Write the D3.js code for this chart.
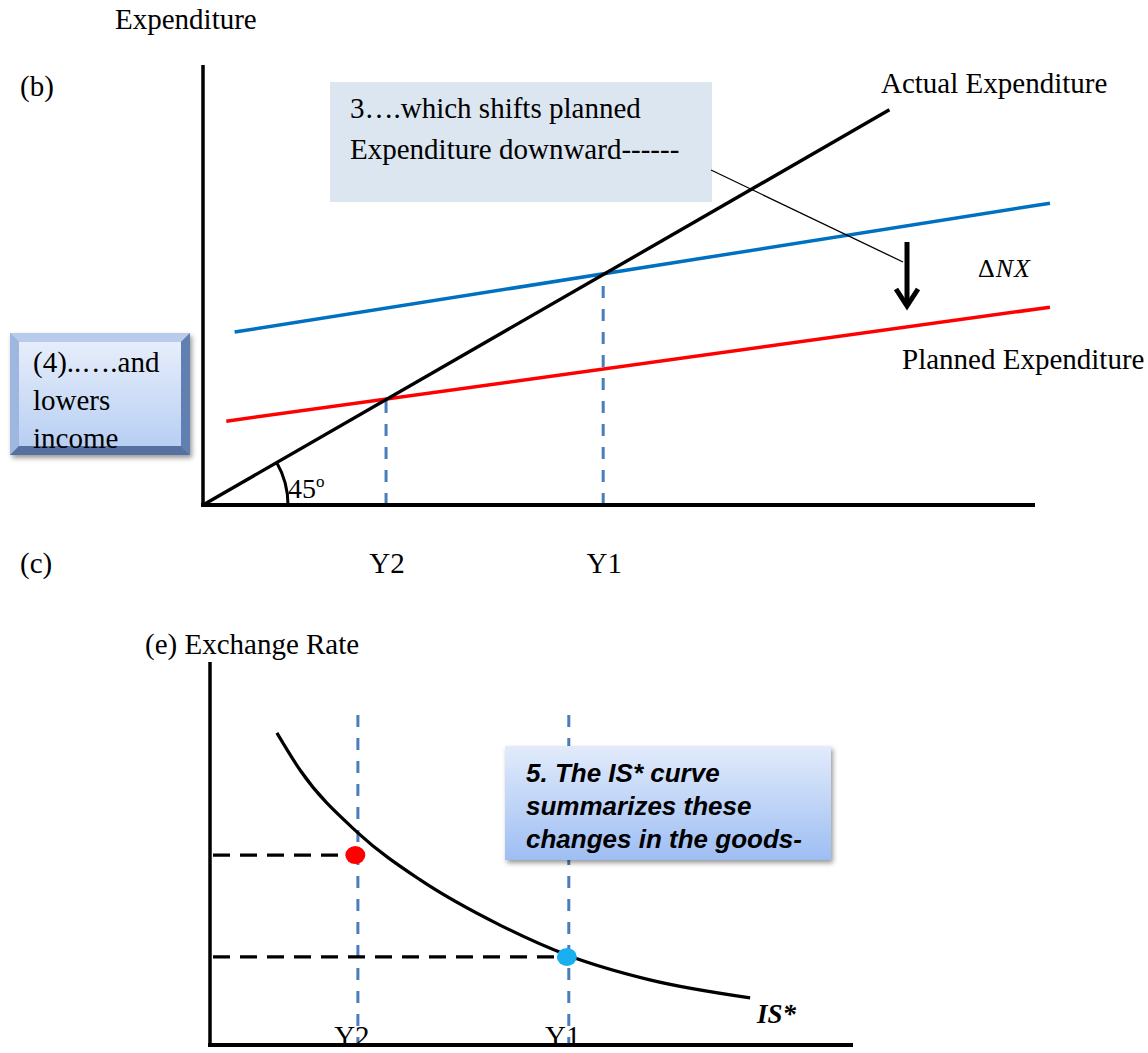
<!DOCTYPE html>
<html><head><meta charset="utf-8">
<script src="https://cdn.jsdelivr.net/npm/d3@7"></script>
<style>body{margin:0;background:#fff}svg{display:block}</style>
</head><body>
<script>
// ---- data (top panel: Keynesian cross) ----
const actualLine = [[0,0],[82.5,82.5]];
const plannedBefore = [[3.8,36.1],[101.8,63.0]];
const plannedAfter = [[2.8,17.5],[101.8,41.3]];
const incomeLabels = ["Y2","Y1"];
const incomeTop = [22.0, 48.1];
// ---- data (bottom panel: IS* curve) ----
const isCurve = [[10.4,81.5],[14.0,71.8],[23.0,55.4],[32.7,43.1],[45.1,31.3],[55.5,23.5],[68.4,17.0],[84.0,12.3]];
const incomeBottom = [23.0, 55.8];
const ratePoints = [[22.6,49.6],[55.5,23.0]];
const dotColors = ["#ff0000","#1ab0ef"];

const W=1148,H=1053;
const svg=d3.select("body").append("svg").attr("width",W).attr("height",H);
const serif="'Liberation Serif','Times New Roman',serif";
const defs=svg.append("defs");

// scales
const xs=d3.scaleLinear().domain([0,100]).range([203,1035]);
const ys=d3.scaleLinear().domain([0,100]).range([505,26]);
const xb=d3.scaleLinear().domain([0,100]).range([210,853]);
const yb=d3.scaleLinear().domain([0,100]).range([1045,662]);
const line=(sx,sy)=>d3.line().x(d=>sx(d[0])).y(d=>sy(d[1]));

// gradients / filters
const g1=defs.append("linearGradient").attr("id","face4").attr("x1",0).attr("y1",0).attr("x2",0).attr("y2",1);
g1.append("stop").attr("offset","0%").attr("stop-color","#e6eefb");
g1.append("stop").attr("offset","100%").attr("stop-color","#b8cff3");
const g2=defs.append("linearGradient").attr("id","face5").attr("x1",0).attr("y1",0).attr("x2",0).attr("y2",1);
g2.append("stop").attr("offset","0%").attr("stop-color","#e2ebfb");
g2.append("stop").attr("offset","100%").attr("stop-color","#9ebef3");
const f=defs.append("filter").attr("id","sh").attr("x","-10%").attr("y","-10%").attr("width","130%").attr("height","130%");
f.append("feDropShadow").attr("dx",2).attr("dy",3).attr("stdDeviation",2.5).attr("flood-color","#000").attr("flood-opacity",0.4);

// ---------- TOP PANEL ----------
const gTop=svg.append("g");
gTop.append("text").attr("x",115).attr("y",29).text("Expenditure");
gTop.append("text").attr("x",20).attr("y",96).text("(b)");
gTop.append("text").attr("x",20).attr("y",573).text("(c)");

// annotation box 3
gTop.append("rect").attr("x",330).attr("y",82).attr("width",382).attr("height",120).attr("fill","#dce6f0");
gTop.append("text").attr("x",350).attr("y",118).text("3….which shifts planned");
gTop.append("text").attr("x",350).attr("y",159).text("Expenditure downward------");

// dashed verticals
gTop.selectAll(".vt").data(incomeTop).enter().append("line")
 .attr("x1",d=>xs(d)).attr("x2",d=>xs(d)).attr("y1",ys(0)).attr("y2",d=>ys(d))
 .attr("stroke","#4a7ebb").attr("stroke-width",3).attr("stroke-dasharray","12,11");

// planned lines
gTop.append("path").attr("d",line(xs,ys)(plannedBefore)).attr("stroke","#0070c0").attr("stroke-width",3.5).attr("fill","none");
gTop.append("path").attr("d",line(xs,ys)(plannedAfter)).attr("stroke","#ff0000").attr("stroke-width",3.5).attr("fill","none");
// actual 45 line
gTop.append("path").attr("d",line(xs,ys)(actualLine)).attr("stroke","#000").attr("stroke-width",3.4).attr("fill","none");

// axes
gTop.append("line").attr("x1",xs(0)).attr("x2",xs(0)).attr("y1",65).attr("y2",ys(0)+2).attr("stroke","#000").attr("stroke-width",3.5);
gTop.append("line").attr("x1",xs(0)-2).attr("x2",xs(100)).attr("y1",ys(0)).attr("y2",ys(0)).attr("stroke","#000").attr("stroke-width",4);

// 45 degree arc
const ang=Math.atan2(ys(10)-ys(0),xs(10)-xs(0));
const r=85, cx=xs(0), cy=ys(0);
const p=d3.path(); p.moveTo(cx+r*Math.cos(ang),cy+r*Math.sin(ang)); p.arc(cx,cy,r,ang,0);
gTop.append("path").attr("d",p.toString()).attr("stroke","#000").attr("stroke-width",3).attr("fill","none");
const t45=gTop.append("text").attr("x",288).attr("y",498).attr("font-size",28);
t45.append("tspan").text("45");
t45.append("tspan").attr("dy",-11).attr("font-size",17).text("o");

// leader line + arrow
gTop.append("line").attr("x1",711).attr("y1",170).attr("x2",903).attr("y2",262).attr("stroke","#000").attr("stroke-width",1.3);
gTop.append("line").attr("x1",907).attr("y1",242).attr("x2",907).attr("y2",304).attr("stroke","#000").attr("stroke-width",5);
gTop.append("path").attr("d","M896,289 L907,306 L918,289").attr("stroke","#000").attr("stroke-width",5).attr("fill","none").attr("stroke-linejoin","miter");
const dnx=gTop.append("text").attr("x",978).attr("y",277).attr("font-size",26).attr("letter-spacing",1);
dnx.append("tspan").text("Δ");
dnx.append("tspan").attr("font-style","italic").text("NX");

gTop.append("text").attr("x",881).attr("y",93).text("Actual Expenditure");
gTop.append("text").attr("x",902).attr("y",369).text("Planned Expenditure");

gTop.selectAll(".yl").data(incomeLabels).enter().append("text")
 .attr("x",(d,i)=>xs(incomeTop[i])+1).attr("y",573).attr("text-anchor","middle").text(d=>d);

// beveled box (4)
const b4=svg.append("g").attr("filter","url(#sh)");
b4.append("rect").attr("x",10).attr("y",333).attr("width",180).attr("height",122).attr("fill","#8aa6d3");
const bx0=10,by0=333,bx1=190,by1=455,bv=9;
b4.append("path").attr("d",`M${bx0},${by0} L${bx1},${by0} L${bx1-bv},${by0+bv} L${bx0+bv},${by0+bv}Z`).attr("fill","#b9cbea");
b4.append("path").attr("d",`M${bx0},${by0} L${bx0+bv},${by0+bv} L${bx0+bv},${by1-bv} L${bx0},${by1}Z`).attr("fill","#9fb7df");
b4.append("path").attr("d",`M${bx1},${by0} L${bx1},${by1} L${bx1-bv},${by1-bv} L${bx1-bv},${by0+bv}Z`).attr("fill","#627fb2");
b4.append("path").attr("d",`M${bx0},${by1} L${bx1},${by1} L${bx1-bv},${by1-bv} L${bx0+bv},${by1-bv}Z`).attr("fill","#56719f");
b4.append("rect").attr("x",bx0+bv).attr("y",by0+bv).attr("width",bx1-bx0-2*bv).attr("height",by1-by0-2*bv).attr("fill","url(#face4)");
["(4)..….and","lowers","income"].forEach((t,i)=>svg.append("text").attr("x",33).attr("y",372+i*38).text(t));

// ---------- BOTTOM PANEL ----------
const gBot=svg.append("g");
gBot.append("text").attr("x",145).attr("y",654).text("(e) Exchange Rate");

gBot.selectAll(".vb").data(incomeBottom).enter().append("line")
 .attr("x1",d=>xb(d)).attr("x2",d=>xb(d)).attr("y1",715).attr("y2",yb(0))
 .attr("stroke","#4a7ebb").attr("stroke-width",3).attr("stroke-dasharray","12,11");

gBot.selectAll(".hb").data(ratePoints).enter().append("line")
 .attr("x1",xb(0)+3).attr("x2",d=>xb(d[0])).attr("y1",d=>yb(d[1])).attr("y2",d=>yb(d[1]))
 .attr("stroke","#000").attr("stroke-width",3.2).attr("stroke-dasharray","17,10");

gBot.append("path").attr("d",d3.line().x(d=>xb(d[0])).y(d=>yb(d[1])).curve(d3.curveMonotoneX)(isCurve))
 .attr("stroke","#000").attr("stroke-width",3.2).attr("fill","none");

gBot.selectAll(".dot").data(ratePoints).enter().append("ellipse")
 .attr("cx",d=>xb(d[0])).attr("cy",d=>yb(d[1])).attr("rx",10).attr("ry",9).attr("fill",(d,i)=>dotColors[i]);

gBot.append("line").attr("x1",xb(0)).attr("x2",xb(0)).attr("y1",662).attr("y2",yb(0)+2).attr("stroke","#000").attr("stroke-width",3.5);
gBot.append("line").attr("x1",xb(0)-2).attr("x2",xb(100)).attr("y1",yb(0)).attr("y2",yb(0)).attr("stroke","#000").attr("stroke-width",4);

gBot.selectAll(".ylb").data(incomeLabels).enter().append("text")
 .attr("x",(d,i)=>xb(incomeBottom[i])-6).attr("y",1046).attr("text-anchor","middle").text(d=>d);

gBot.append("text").attr("x",757).attr("y",1023).attr("font-size",27).attr("font-weight","bold").attr("font-style","italic").text("IS*");

// box 5
svg.append("rect").attr("x",505).attr("y",746).attr("width",326).attr("height",114).attr("fill","url(#face5)").attr("filter","url(#sh)");
["5. The IS* curve","summarizes these","changes in the goods-"].forEach((t,i)=>svg.append("text")
 .attr("x",526).attr("y",782+i*33).attr("font-family","'Liberation Sans',Arial,sans-serif")
 .attr("font-weight","bold").attr("font-style","italic").attr("font-size",26).text(t));

svg.selectAll("text").each(function(){const s=d3.select(this); if(!s.attr("font-family")) s.attr("font-family",serif); if(!s.attr("font-size")) s.attr("font-size",29);});
</script>
</body></html>
